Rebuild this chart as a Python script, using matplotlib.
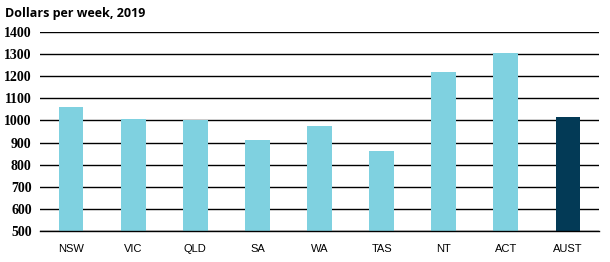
import matplotlib.pyplot as plt

states = ["NSW", "VIC", "QLD", "SA", "WA", "TAS", "NT", "ACT", "AUST"]
earnings = [1059, 1008, 1001, 913, 976, 863, 1220, 1306, 1014]
bar_colors = ["#7fd1e0"] * 8 + ["#033a56"]

y_ticks = list(range(500, 1401, 100))

fig = plt.figure(figsize=(6.1, 2.62), dpi=100)
ax = fig.add_axes([40 / 610, 1 - 231 / 262, 559 / 610, 199 / 262])

positions = range(len(states))
ax.bar(positions, earnings, width=0.4, color=bar_colors, zorder=2)

ax.set_xlim(-0.5, len(states) - 0.5)
ax.set_ylim(500, 1400)
ax.set_yticks(y_ticks)
ax.set_yticklabels([str(v) for v in y_ticks], family="Liberation Serif",
                   fontweight="bold", fontsize=10)
ax.set_xticks(list(positions))
ax.set_xticklabels(states, family="Liberation Sans", fontsize=8)

ax.set_axisbelow(True)
ax.yaxis.grid(True, color="black", linewidth=1.0)
ax.tick_params(axis="both", length=0)
ax.tick_params(axis="y", pad=6)
ax.tick_params(axis="x", pad=9)

for side in ["top", "right", "left"]:
    ax.spines[side].set_visible(False)
ax.spines["bottom"].set_color("black")
ax.spines["bottom"].set_linewidth(1.0)

fig.text(5 / 610, 1 - 14 / 262, "Dollars per week, 2019", family="Open Sans",
         fontweight="bold", fontsize=9, va="center", ha="left")

fig.savefig("out.png", dpi=100, facecolor="white")
plt.close(fig)
